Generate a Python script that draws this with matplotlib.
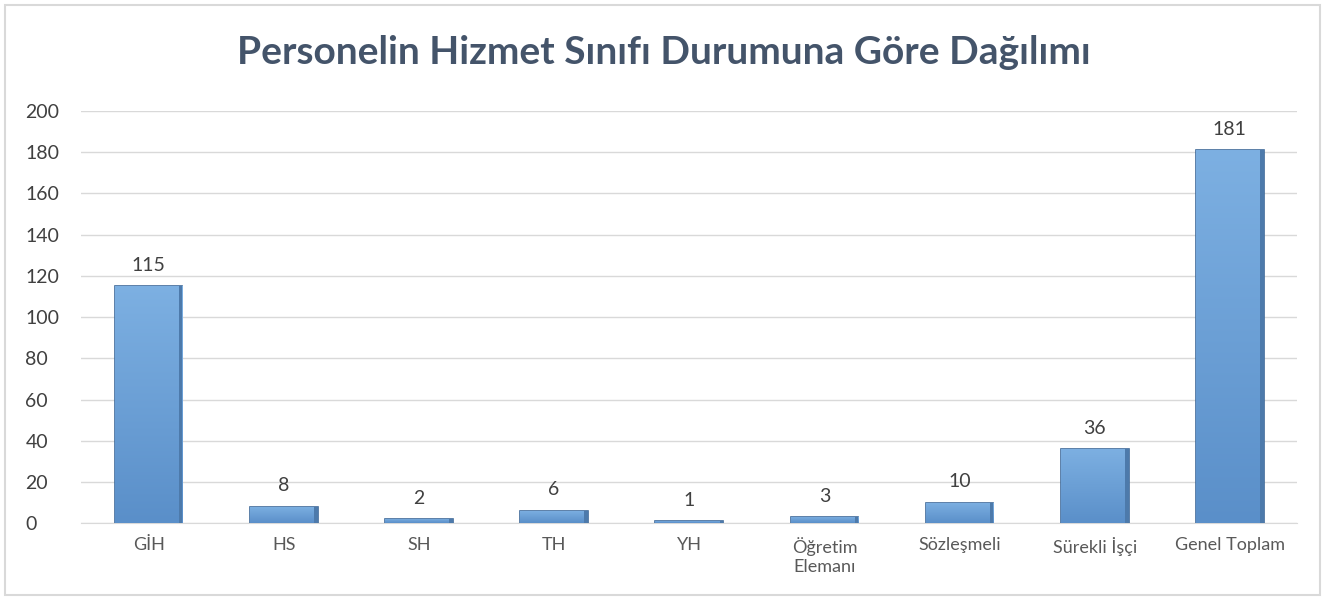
import matplotlib.pyplot as plt
import numpy as np
from matplotlib.patches import Rectangle

categories = ["GİH", "HS", "SH", "TH", "YH", "Öğretim\nElemanı", "Sözleşmeli", "Sürekli İşçi", "Genel Toplam"]
values = [115, 8, 2, 6, 1, 3, 10, 36, 181]

plt.rcParams['font.family'] = ['Lato', 'DejaVu Sans']

fig = plt.figure(figsize=(13.28, 6), dpi=100)
ax = fig.add_axes([0.061, 0.128, 0.916, 0.687])

# outer chart border
fig.patches.append(Rectangle((0.004, 0.008), 0.99, 0.984, transform=fig.transFigure,
                             fill=False, edgecolor="#d9d9d9", linewidth=1.5))

x = np.arange(len(categories))
bars = ax.bar(x, values, width=0.5, color="#6a9fd6", edgecolor="#3f6a99",
              linewidth=1.2, zorder=3)

# vertical gradient inside each bar
grad = np.linspace(0, 1, 256).reshape(-1, 1)
cmap = plt.matplotlib.colors.LinearSegmentedColormap.from_list("b", ["#5a8fc9", "#7db0e2"])
for b in bars:
    im = ax.imshow(grad, extent=(b.get_x(), b.get_x() + b.get_width(), 0, b.get_height()),
                   origin="lower", cmap=cmap, aspect="auto", zorder=3)
    im.set_clip_path(b)
    # darker right edge bevel
    ax.add_patch(Rectangle((b.get_x() + b.get_width() * 0.95, 0), b.get_width() * 0.05,
                           b.get_height(), color="#4d7aab", zorder=4, linewidth=0))

for xi, v in zip(x, values):
    ax.text(xi, v + 6, str(v), ha="center", va="bottom", fontsize=14, color="#404040")

ax.set_xlim(-0.5, len(categories) - 0.5)
ax.set_ylim(0, 200)
ax.set_yticks(range(0, 201, 20))
ax.set_xticks(x)
ax.set_xticklabels(categories)
ax.tick_params(axis="x", length=0, labelsize=13, labelcolor="#595959", pad=10)
ax.tick_params(axis="y", length=0, labelsize=14, labelcolor="#404040", pad=40)
for lab in ax.get_yticklabels():
    lab.set_horizontalalignment("left")
ax.grid(axis="y", color="#d9d9d9", linewidth=1, zorder=0)
for s in ["top", "right", "left"]:
    ax.spines[s].set_visible(False)
ax.spines["bottom"].set_color("#d9d9d9")

fig.text(0.5, 0.913, "Personelin Hizmet Sınıfı Durumuna Göre Dağılımı", ha="center", va="center",
         fontsize=28, fontweight="bold", color="#44546a")

fig.savefig("out.png", dpi=100)
